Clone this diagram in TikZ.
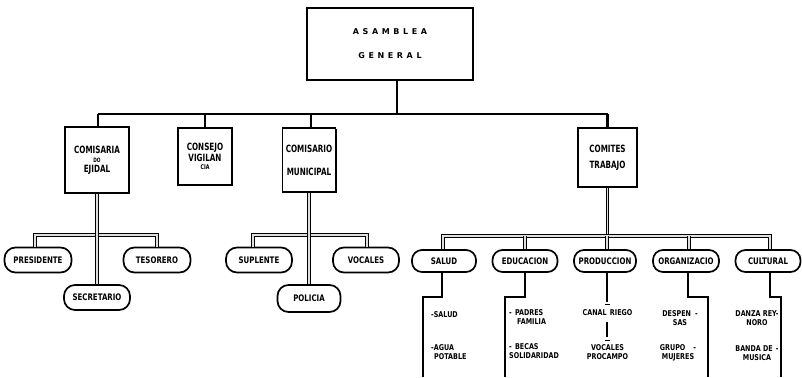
\documentclass[tikz,border=0pt]{standalone}
\usepackage{fontspec}
\setmainfont{DejaVu Sans}
\newfontfamily\djf{DejaVu Sans}
\newfontfamily\spf[LetterSpace=45]{DejaVu Sans}
\newcommand\bxs[1]{\scalebox{0.72}[1]{#1}}
\newcommand\pxs[1]{\scalebox{0.78}[1]{#1}}
\newcommand\sxs[1]{\scalebox{0.8}[1]{#1}}
\usetikzlibrary{shadows}
\begin{document}
\begin{tikzpicture}[x=1pt,y=-1pt,
  orgbox/.style={draw, line width=1.6pt, fill=white, inner sep=0pt, align=center,
    font=\djf\bfseries\fontsize{10}{11}\selectfont,
    drop shadow={shadow xshift=1.3pt, shadow yshift=-1.3pt, fill=black, opacity=1}},
  pill/.style={draw, line width=1.7pt, rounded corners=11pt, fill=white, inner sep=0pt,
    minimum height=25pt, font=\djf\bfseries\fontsize{9}{9.5}\selectfont},
  spill/.style={pill, minimum height=22pt, rounded corners=10pt},
  mainline/.style={line width=2.2pt},
  dbl/.style={double=gray!25, double distance=1.1pt, line width=1.1pt},
  thinline/.style={line width=1.3pt},
  txt/.style={font=\djf\bfseries\fontsize{8}{9}\selectfont, inner sep=0pt}]
\useasboundingbox (0,0) rectangle (802,377);

% top
\node[orgbox, minimum width=166pt, minimum height=72pt,
  font=\spf\bfseries\fontsize{8}{9}\selectfont] (ag) at (390,44) {ASAMBLEA\\[15pt]GENERAL};

% level 1
\node[orgbox, minimum width=64pt, minimum height=66pt] (ce) at (97,160)
  {\bxs{COMISARIA}\\[-1.5pt]{\fontsize{6}{7}\selectfont\bxs{DO}}\\[-1.5pt]\bxs{EJIDAL}};
\node[orgbox, minimum width=54pt, minimum height=57pt] (cv) at (205,156.5)
  {\bxs{CONSEJO}\\\bxs{VIGILAN}\\[-2.5pt]{\fontsize{6.5}{7}\selectfont\bxs{CIA}}};
\node[orgbox, minimum width=53pt, minimum height=64pt] (cm) at (309,160)
  {\bxs{COMISARIO}\\[12pt]\bxs{MUNICIPAL}};
\node[orgbox, minimum width=59pt, minimum height=59pt] (ct) at (607.5,157.5)
  {\bxs{COMITES}\\[5pt]\bxs{TRABAJO}};

\coordinate (bar) at (0,114);
\draw[mainline] ([xshift=7pt]ag.south) -- ([xshift=7pt]ag.south |- bar);
\draw[mainline] ([xshift=1pt]ce.north |- bar) -- (ct.north |- bar);
\draw[mainline] ([xshift=1pt]ce.north |- bar) -- ([xshift=1pt]ce.north);
\draw[mainline] (cv.north |- bar) -- (cv.north);
\draw[mainline] ([xshift=2pt]cm.north |- bar) -- ([xshift=2pt]cm.north);
\draw[mainline] (ct.north |- bar) -- (ct.north);

% comisaria group
\node[pill, minimum width=67pt] (pr) at (38,260) {\pxs{PRESIDENTE}};
\node[pill, minimum width=67pt] (te) at (157,260) {\pxs{TESORERO}};
\node[pill, minimum width=66pt] (se) at (97,297.5) {\pxs{SECRETARIO}};
\coordinate (b1l) at (35,235);
\coordinate (b1r) at (157,235);
\draw[dbl] (pr.north -| b1l) -- (b1l) -- (b1r) -- (te.north -| b1r);
\draw[dbl] (ce.south) -- (se.north);

% comisario group
\node[pill, minimum width=66pt] (su) at (259,260) {\pxs{SUPLENTE}};
\node[pill, minimum width=66pt] (vo) at (366,260) {\pxs{VOCALES}};
\node[pill, minimum width=63pt, minimum height=27pt] (po) at (309,298.5) {\pxs{POLICIA}};
\coordinate (b2l) at (253,235);
\coordinate (b2r) at (367,235);
\draw[dbl] (su.north -| b2l) -- (b2l) -- (b2r) -- (vo.north -| b2r);
\draw[dbl] (cm.south) -- (po.north);

% comites group
\node[spill, minimum width=64pt] (sa) at (444,261) {\pxs{SALUD}};
\node[spill, minimum width=65pt] (ed) at (525,261) {\pxs{EDUCACION}};
\node[spill, minimum width=62pt] (pd) at (605,261) {\pxs{PRODUCCION}};
\node[spill, minimum width=66pt] (og) at (686,261) {\pxs{ORGANIZACIO}};
\node[spill, minimum width=65pt] (cu) at (768,261) {\pxs{CULTURAL}};
\coordinate (b3) at (0,236);
\draw[dbl] (ct.south) -- (ct.south |- b3);
\draw[dbl] ([xshift=-1pt]sa.north) -- ([xshift=-1pt]sa.north |- b3) -- ([xshift=2pt]cu.north |- b3) -- ([xshift=2pt]cu.north);
\draw[dbl] (ed.north) -- (ed.north |- b3);
\draw[dbl] ([xshift=2pt]pd.north) -- ([xshift=2pt]pd.north |- b3);
\draw[dbl] ([xshift=3pt]og.north) -- ([xshift=3pt]og.north |- b3);

% brackets below
\coordinate (sa1) at (423,297); \coordinate (sa2) at (423,377);
\draw[thinline] ([xshift=-2pt]sa.south) -- ([xshift=-2pt]sa.south |- sa1) -- (sa1) -- (sa2);
\coordinate (ed1) at (505,297); \coordinate (ed2) at (505,377);
\draw[thinline] (ed.south) -- (ed.south |- ed1) -- (ed1) -- (ed2);
\coordinate (pd1) at (607,302);
\draw[thinline] ([xshift=2pt]pd.south) -- (pd1);
\coordinate (pt1a) at (605,304.5); \coordinate (pt1b) at (610,304.5);
\draw[line width=1pt] (pt1a) -- (pt1b);
\coordinate (pd2) at (607,322); \coordinate (pd3) at (607,337);
\draw[thinline] (pd2) -- (pd3);
\coordinate (pt2a) at (605,340.5); \coordinate (pt2b) at (610,340.5);
\draw[line width=1pt] (pt2a) -- (pt2b);
\coordinate (og1) at (708,297); \coordinate (og2) at (708,377);
\draw[thinline] ([xshift=2pt]og.south) -- ([xshift=2pt]og.south |- og1) -- (og1) -- (og2);
\coordinate (cu1) at (781,297); \coordinate (cu2) at (781,377);
\draw[thinline] ([xshift=2pt]cu.south) -- ([xshift=2pt]cu.south |- cu1) -- (cu1) -- (cu2);

% texts
\node[txt, anchor=west] (t1) at (431,315) {\sxs{-SALUD}};
\node[txt, anchor=north west, align=left] (t2) at (431,344) {\sxs{-AGUA}\\\hspace*{3pt}\sxs{POTABLE}};
\node[txt, anchor=north west, align=left] (t3) at (509,309) {\sxs{-\hspace{4pt}PADRES}\\\hspace*{8pt}\sxs{FAMILIA}};
\node[txt, anchor=north west, align=left] (t4) at (509,343) {\sxs{-\hspace{4pt}BECAS}\\\sxs{SOLIDARIDAD}};
\node[txt] (t5) at (607.5,313) {\sxs{CANAL\hspace{4pt}RIEGO}};
\node[txt, align=center] (t6) at (607.5,352.5) {\sxs{VOCALES}\\\sxs{PROCAMPO}};
\node[txt, align=center] (t7) at (680,318) {\sxs{DESPEN\hspace{5pt}-}\\\sxs{SAS}};
\node[txt, align=center] (t8) at (678,353) {\sxs{GRUPO\hspace{10pt}-}\\\sxs{MUJERES}};
\node[txt, align=center] (t9) at (757,318) {\sxs{DANZA REY-}\\\sxs{NORO}};
\node[txt, align=center] (t10) at (757,353) {\sxs{BANDA DE\hspace{4pt}-}\\\sxs{MUSICA}};
\end{tikzpicture}
\end{document}
